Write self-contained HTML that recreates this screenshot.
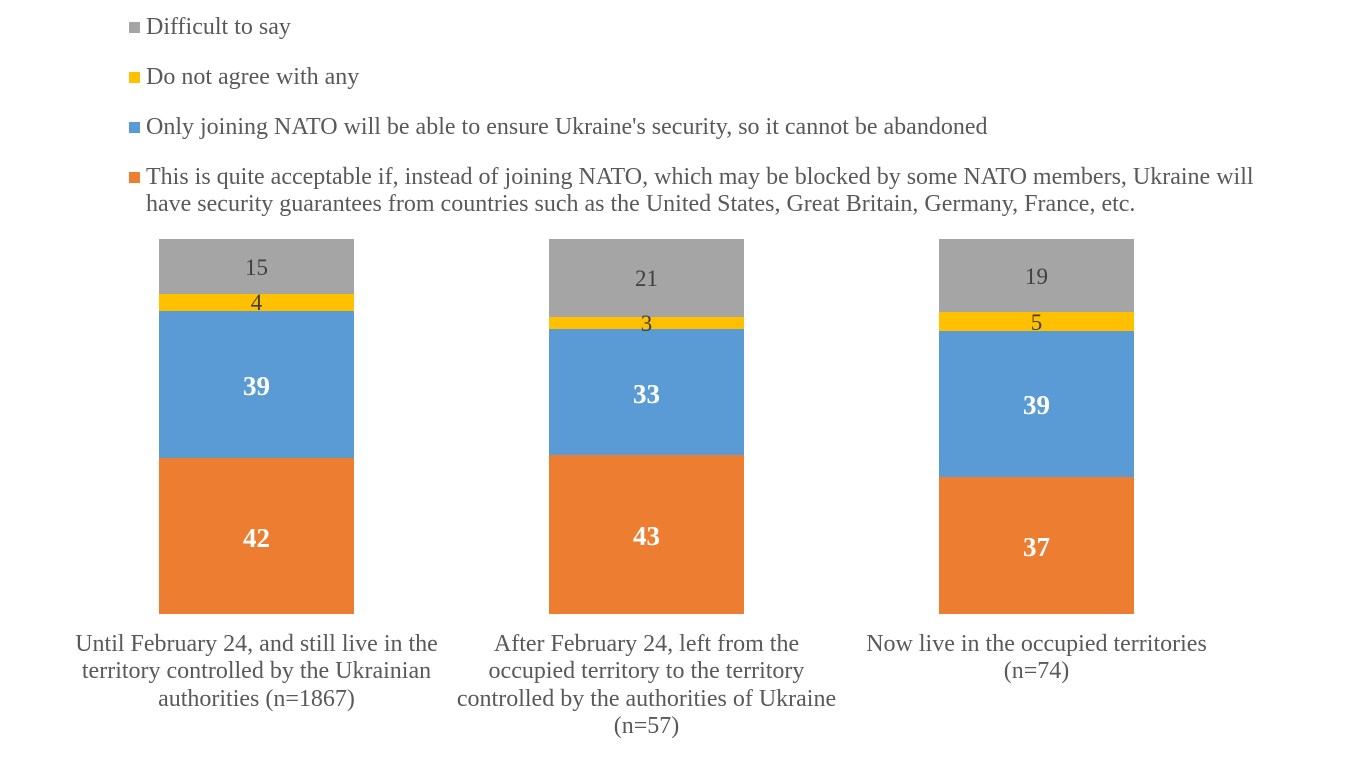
<!DOCTYPE html>
<html>
<head>
<meta charset="utf-8">
<style>
html,body{margin:0;padding:0;background:#fff;}
svg{display:block;}
text{font-family:"Liberation Serif","Times New Roman",serif;}
.lg{font-size:24px;fill:#595959;}
.cat{font-size:24px;fill:#595959;text-anchor:middle;}
.dl{font-size:23px;fill:#404040;text-anchor:middle;}
.wl{font-size:27px;fill:#ffffff;font-weight:bold;text-anchor:middle;}
</style>
</head>
<body>
<svg width="1358" height="758" viewBox="0 0 1358 758" xmlns="http://www.w3.org/2000/svg">
<rect width="1358" height="758" fill="#fff"/>
<!-- Legend -->
<rect x="129" y="22" width="11" height="11" fill="#A5A5A5"/>
<text class="lg" x="146" y="34">Difficult to say</text>
<rect x="129" y="72" width="11" height="11" fill="#FFC000"/>
<text class="lg" x="146" y="84">Do not agree with any</text>
<rect x="129" y="122" width="11" height="11" fill="#5B9BD5"/>
<text class="lg" x="146" y="134">Only joining NATO will be able to ensure Ukraine's security, so it cannot be abandoned</text>
<rect x="129" y="172" width="11" height="11" fill="#ED7D31"/>
<text class="lg" x="146" y="184">This is quite acceptable if, instead of joining NATO, which may be blocked by some NATO members, Ukraine will</text>
<text class="lg" x="146" y="211">have security guarantees from countries such as the United States, Great Britain, Germany, France, etc.</text>

<!-- Bar 1 -->
<rect x="159" y="239" width="195" height="55" fill="#A5A5A5"/>
<rect x="159" y="294" width="195" height="17" fill="#FFC000"/>
<rect x="159" y="311" width="195" height="147" fill="#5B9BD5"/>
<rect x="159" y="458" width="195" height="156" fill="#ED7D31"/>
<text class="dl" x="256.5" y="275">15</text>
<text class="dl" x="256.5" y="310">4</text>
<text class="wl" x="256.5" y="395">39</text>
<text class="wl" x="256.5" y="547">42</text>

<!-- Bar 2 -->
<rect x="549" y="239" width="195" height="78" fill="#A5A5A5"/>
<rect x="549" y="317" width="195" height="12" fill="#FFC000"/>
<rect x="549" y="329" width="195" height="126" fill="#5B9BD5"/>
<rect x="549" y="455" width="195" height="159" fill="#ED7D31"/>
<text class="dl" x="646.5" y="286">21</text>
<text class="dl" x="646.5" y="331">3</text>
<text class="wl" x="646.5" y="403">33</text>
<text class="wl" x="646.5" y="545">43</text>

<!-- Bar 3 -->
<rect x="939" y="239" width="195" height="73" fill="#A5A5A5"/>
<rect x="939" y="312" width="195" height="19" fill="#FFC000"/>
<rect x="939" y="331" width="195" height="146" fill="#5B9BD5"/>
<rect x="939" y="477" width="195" height="137" fill="#ED7D31"/>
<text class="dl" x="1036.5" y="284">19</text>
<text class="dl" x="1036.5" y="330">5</text>
<text class="wl" x="1036.5" y="414">39</text>
<text class="wl" x="1036.5" y="556">37</text>

<!-- Category labels -->
<text class="cat" x="256.5" y="651">Until February 24, and still live in the</text>
<text class="cat" x="256.5" y="678">territory controlled by the Ukrainian</text>
<text class="cat" x="256.5" y="706">authorities (n=1867)</text>

<text class="cat" x="646.5" y="651">After February 24, left from the</text>
<text class="cat" x="646.5" y="678">occupied territory to the territory</text>
<text class="cat" x="646.5" y="706">controlled by the authorities of Ukraine</text>
<text class="cat" x="646.5" y="733">(n=57)</text>

<text class="cat" x="1036.5" y="651">Now live in the occupied territories</text>
<text class="cat" x="1036.5" y="678">(n=74)</text>
</svg>
</body>
</html>
